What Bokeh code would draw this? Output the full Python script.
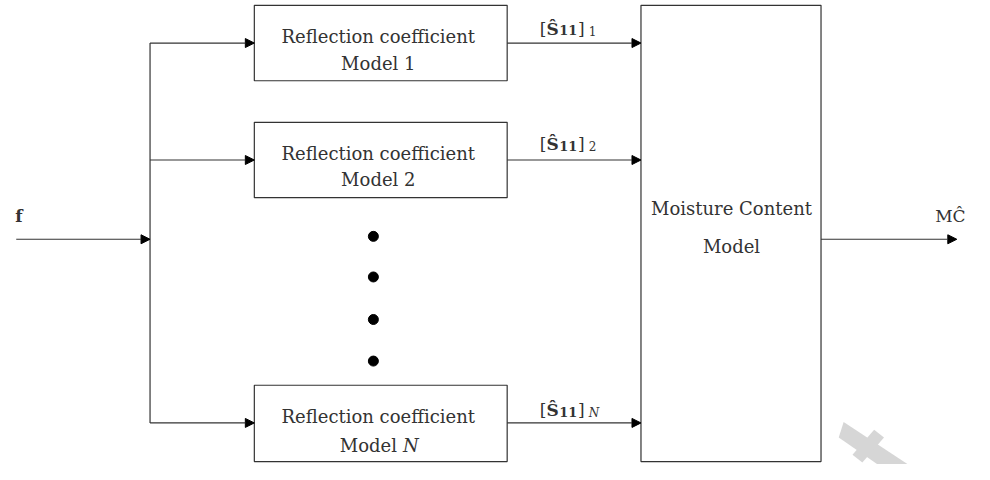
from bokeh.plotting import figure
from bokeh.models import Arrow, NormalHead, ColumnDataSource, Range1d
from bokeh.core.properties import value
from bokeh.embed import file_html
from bokeh.resources import INLINE

FONT = value("DejaVu Serif")
LINE = "#333333"
TXT = "#333333"
FS = "18px"

# ---- diagram data (reference pixel coordinates) ----
model_box_left = 258
model_box_right = 515
model_box_top = [5, 126, 398]
model_box_bottom = [83, 204, 477]
model_line1 = ["Reflection coefficient"] * 3
model_line1_y = [37, 158, 430]
model_line2 = ["Model 1", "Model 2"]
model_line2_y = [65, 185]
model_n_y = 460
text_cx = 384

mc_box = dict(left=651, right=834, top=5, bottom=477)
mc_text = ["Moisture Content", "Model"]
mc_text_y = [215, 254]
mc_text_x = 743

branch_x = 152
branch_y = [44, 165, 437]
input_y = 247
input_x0 = 16
out_y = 247
out_x1 = 972

dot_x = [379, 379, 379, 379]
dot_y = [244, 286, 330, 373]

label_x = 548
label_baseline = [29, 148, 424]
label_sub = ["1", "2", "N"]

p = figure(width=974, height=464, output_backend="svg", toolbar_location=None,
           x_range=Range1d(0, 990), y_range=Range1d(480, 0),
           min_border=0, background_fill_color="white", border_fill_color="white")
p.axis.visible = False
p.grid.visible = False
p.outline_line_color = None

# watermark (faint grey cross, bottom right)
p.patches(xs=[[857, 852, 920, 930], [866, 876, 898, 888]],
          ys=[[436, 452, 500, 485], [470, 478, 452, 444]],
          fill_color="#d6d6d6", line_color=None)

# model boxes
p.quad(left=[model_box_left] * 3, right=[model_box_right] * 3,
       top=model_box_top, bottom=model_box_bottom,
       fill_color="white", line_color=LINE, line_width=1.2)
# moisture content box
p.quad(left=[mc_box["left"]], right=[mc_box["right"]], top=[mc_box["top"]],
       bottom=[mc_box["bottom"]], fill_color="white", line_color=LINE, line_width=1.2)

# vertical distribution line
p.line(x=[branch_x, branch_x], y=[branch_y[0], branch_y[-1]], line_color=LINE, line_width=1.2)


def add_arrows(x0, y0, x1, y1):
    src = ColumnDataSource(dict(x0=x0, y0=y0, x1=x1, y1=y1))
    p.add_layout(Arrow(end=NormalHead(size=9, fill_color="black", line_color="black", line_width=1),
                       x_start="x0", y_start="y0", x_end="x1", y_end="y1",
                       source=src, line_color=LINE, line_width=1.2))


add_arrows([input_x0], [input_y], [branch_x], [input_y])
add_arrows([branch_x] * 3, branch_y, [model_box_left] * 3, branch_y)
add_arrows([model_box_right] * 3, branch_y, [mc_box["left"]] * 3, branch_y)
add_arrows([mc_box["right"]], [out_y], [out_x1], [out_y])

# dots
p.scatter(x=dot_x, y=dot_y, size=10, fill_color="black", line_color="black")

# model box texts
p.text(x=[text_cx] * 3, y=model_line1_y, text=model_line1, text_font=FONT,
       text_font_size=FS, text_align="center", text_baseline="alphabetic", text_color=TXT)
p.text(x=[text_cx] * 2, y=model_line2_y, text=model_line2, text_font=FONT,
       text_font_size=FS, text_align="center", text_baseline="alphabetic", text_color=TXT)
p.text(x=[403], y=[model_n_y], text=["Model"], text_font=FONT,
       text_font_size=FS, text_align="right", text_baseline="alphabetic", text_color=TXT)
p.text(x=[409], y=[model_n_y], text=["N"], text_font=FONT, text_font_style="italic",
       text_font_size=FS, text_align="left", text_baseline="alphabetic", text_color=TXT)

# moisture content texts
p.text(x=[mc_text_x] * 2, y=mc_text_y, text=mc_text, text_font=FONT,
       text_font_size=FS, text_align="center", text_baseline="alphabetic", text_color=TXT)

# input / output labels
p.text(x=[15], y=[223], text=["f"], text_font=FONT, text_font_style="bold",
       text_font_size="17px", text_align="left", text_baseline="alphabetic", text_color=TXT)
p.text(x=[950], y=[223], text=["MĈ"], text_font=FONT,
       text_font_size="17px", text_align="left", text_baseline="alphabetic", text_color=TXT)

# [S11]_k labels
n = len(label_baseline)
p.text(x=[label_x] * n, y=label_baseline, text=["["] * n, text_font=FONT,
       text_font_size="17px", text_align="left", text_baseline="alphabetic", text_color=TXT)
p.text(x=[label_x + 7] * n, y=label_baseline, text=["Ŝ"] * n, text_font=FONT, text_font_style="bold",
       text_font_size="17px", text_align="left", text_baseline="alphabetic", text_color=TXT)
p.text(x=[label_x + 20] * n, y=[b + 2 for b in label_baseline], text=["11"] * n, text_font=FONT,
       text_font_style="bold", text_font_size="13px", text_align="left", text_baseline="alphabetic",
       text_color=TXT)
p.text(x=[label_x + 39] * n, y=label_baseline, text=["]"] * n, text_font=FONT,
       text_font_size="17px", text_align="left", text_baseline="alphabetic", text_color=TXT)
p.text(x=[label_x + 50, label_x + 50], y=[b + 3 for b in label_baseline[:2]], text=label_sub[:2],
       text_font=FONT, text_font_size="12px", text_align="left", text_baseline="alphabetic",
       text_color=TXT)
p.text(x=[label_x + 50], y=[label_baseline[2] + 3], text=[label_sub[2]], text_font=FONT,
       text_font_style="italic", text_font_size="12px", text_align="left", text_baseline="alphabetic",
       text_color=TXT)

open("out.html", "w").write(file_html(p, INLINE))
